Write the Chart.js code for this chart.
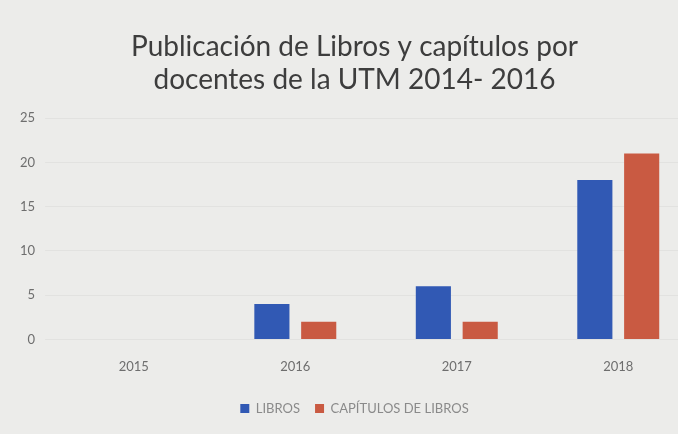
<!DOCTYPE html>
<html>
<head>
<meta charset="utf-8">
<script src="https://cdn.jsdelivr.net/npm/chart.js@4/dist/chart.umd.min.js"></script>
<style>
    html, body { margin: 0; padding: 0; background: #ececea; overflow: hidden; }
    #wrap { width: 730px; height: 434px; }
</style>
</head>
<body>
<div id="wrap"><canvas id="chart" width="730" height="434"></canvas></div>
<script>
// Publicación de libros y capítulos por docentes de la UTM
const years = ['2015', '2016', '2017', '2018'];
const libros = [0, 4, 6, 18];
const capitulos = [0, 2, 2, 21];
const yTicks = [0, 5, 10, 15, 20, 25];

const titleLines = ['Publicación de Libros y capítulos por', 'docentes de la UTM 2014- 2016'];

const ctx = document.getElementById('chart');

new Chart(ctx, {
    type: 'bar',
    data: {
        labels: years,
        datasets: [
            {
                label: 'LIBROS',
                data: libros,
                backgroundColor: '#3159b4',
                categoryPercentage: 0.58,
                barPercentage: 0.75
            },
            {
                label: 'CAPÍTULOS DE LIBROS',
                data: capitulos,
                backgroundColor: '#c95a42',
                categoryPercentage: 0.58,
                barPercentage: 0.75
            }
        ]
    },
    options: {
        responsive: false,
        animation: false,
        layout: {
            padding: { left: 10, right: 31, top: 26, bottom: 9 }
        },
        plugins: {
            title: {
                display: true,
                text: titleLines,
                color: '#3d3d3d',
                font: { family: 'Lato', size: 28, weight: 'normal', lineHeight: 1.18 },
                padding: { top: 4, bottom: 22 }
            },
            legend: {
                position: 'bottom',
                labels: {
                    boxWidth: 9,
                    boxHeight: 9,
                    color: '#8a8a8a',
                    padding: 15,
                    font: { family: 'Lato', size: 13 }
                }
            },
            tooltip: { enabled: false }
        },
        scales: {
            x: {
                grid: { display: false },
                border: { display: false },
                ticks: {
                    color: '#6e6e6e',
                    padding: 12,
                    font: { family: 'Lato', size: 13 }
                }
            },
            y: {
                min: yTicks[0],
                max: yTicks[yTicks.length - 1],
                ticks: {
                    stepSize: 5,
                    color: '#6e6e6e',
                    padding: 10,
                    font: { family: 'Lato', size: 13 }
                },
                grid: { color: 'rgba(0,0,0,0.04)' },
                border: { display: false }
            }
        }
    }
});
</script>
</body>
</html>
